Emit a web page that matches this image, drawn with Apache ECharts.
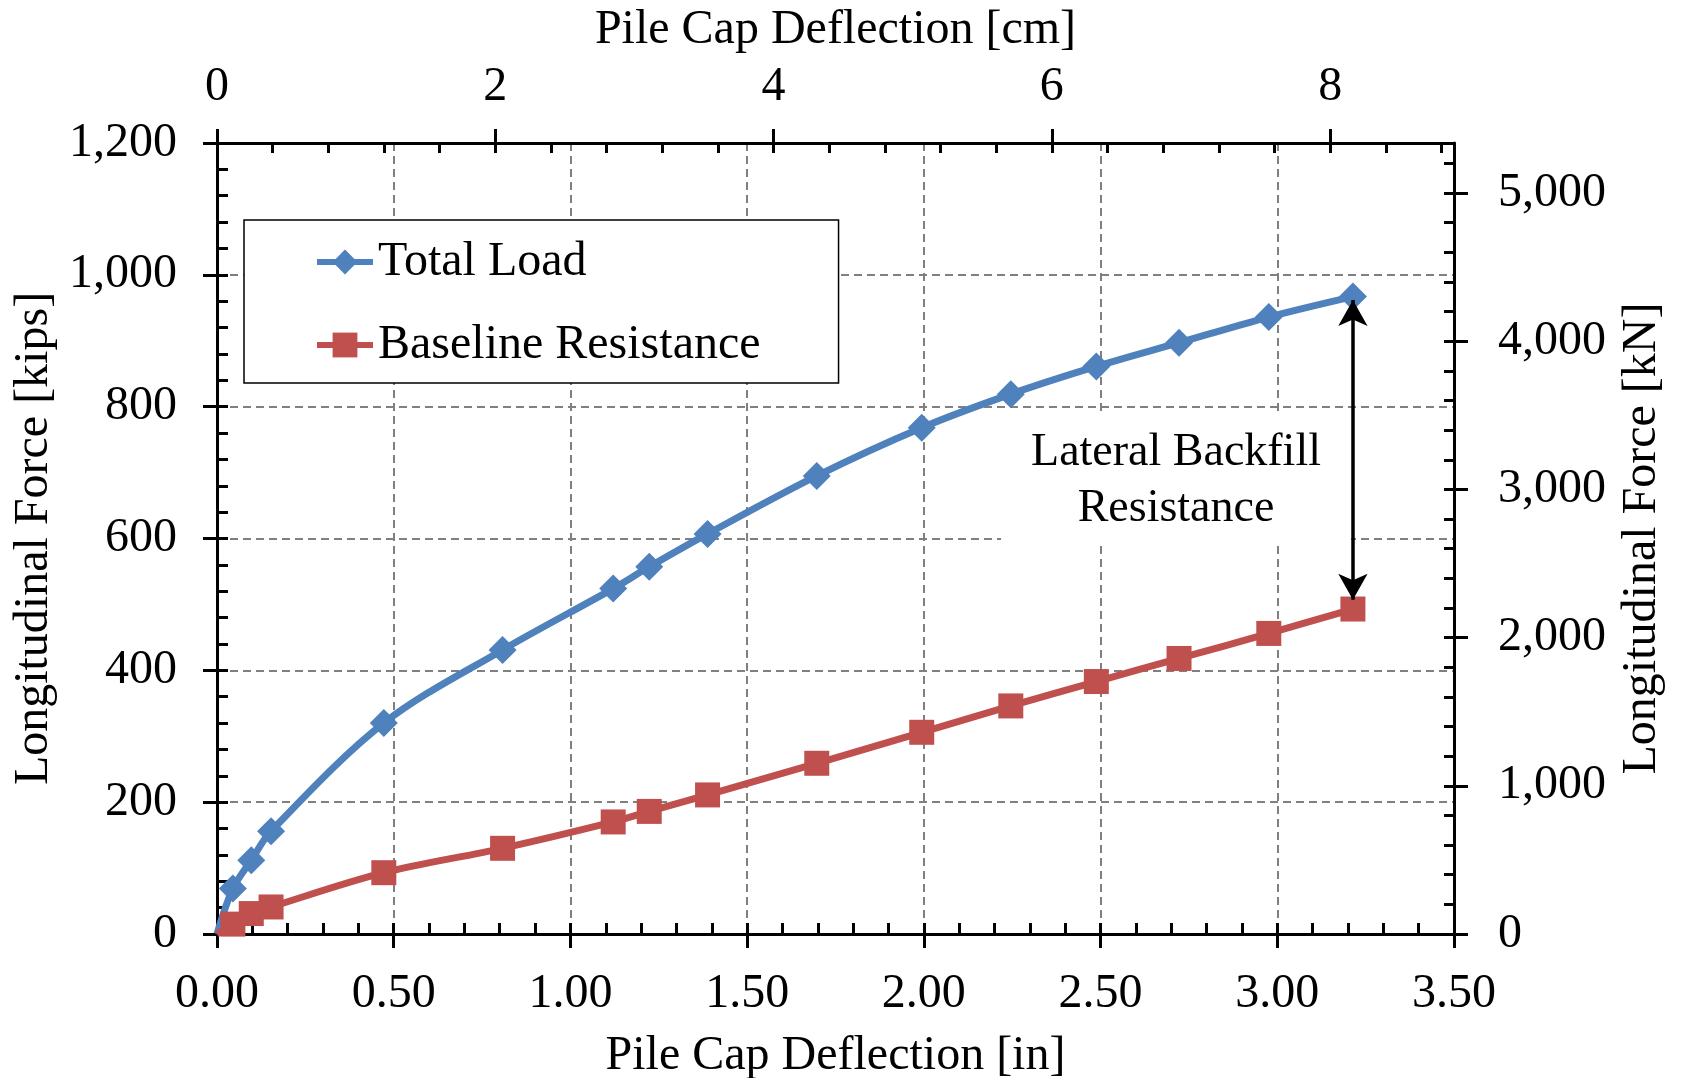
<!DOCTYPE html>
<html>
<head>
<meta charset="utf-8">
<script src="https://cdn.jsdelivr.net/npm/echarts@6/dist/echarts.min.js"></script>
<style>
  html, body { margin: 0; padding: 0; background: #fff; }
  #chart { width: 1681px; height: 1078px; }
</style>
</head>
<body>
<div id="chart"></div>
<script>
// ---------------- data ----------------
const deflectionIn = [0, 0.045, 0.097, 0.153, 0.472, 0.808, 1.121, 1.223, 1.388, 1.697, 1.994, 2.246, 2.488, 2.722, 2.976, 3.214];
const totalLoad    = [0, 69, 112, 156, 320, 431, 524, 557, 607, 695, 768, 819, 861, 897, 936, 967];
const baselineRes  = [0, 15, 31, 41, 93, 130, 170, 186, 211, 259, 306, 346, 383, 418, 456, 493];

const seriesNames = ['Total Load', 'Baseline Resistance'];
const annotationText = 'Lateral Backfill\nResistance';

// axes / ticks
const inMajor  = [0, 0.5, 1.0, 1.5, 2.0, 2.5, 3.0, 3.5];
const cmMajor  = [0, 2, 4, 6, 8];
const kipMajor = [0, 200, 400, 600, 800, 1000, 1200];
const kNMajor  = [0, 1000, 2000, 3000, 4000, 5000];
const IN_MAX = 3.5, KIP_MAX = 1200;
const CM_PER_IN = 2.54, KN_PER_KIP = 4.4482216;

function steps(start, stop, step) {
  const out = [];
  for (let v = start; v <= stop + 1e-9; v += step) out.push(Math.round(v * 1000) / 1000);
  return out;
}
const inMinor  = steps(0, IN_MAX, 0.1);
const cmMinor  = steps(0, IN_MAX * CM_PER_IN, 0.4);
const kipMinor = steps(0, KIP_MAX, 40);
const kNMinor  = steps(0, KIP_MAX * KN_PER_KIP, 200);

// ---------------- styling ----------------
const FONT = '"Liberation Serif", "Times New Roman", Times, serif';
const BLUE = '#4F81BD', RED = '#C0504D';
const AX = { color: '#000', width: 3 };
const txt = { color: '#000', fontFamily: FONT, fontSize: 48 };

function addCommas(v) { return String(Math.round(v)).replace(/\B(?=(\d{3})+(?!\d))/g, ','); }

function tickAxis(position, min, max, values, inside, length) {
  return {
    type: 'value', position, min, max, offset: 0,
    axisLine: { show: false, onZero: false },
    axisTick: { show: true, inside, length, customValues: values, lineStyle: AX },
    axisLabel: { show: false },
    splitLine: { show: false }
  };
}

const grid = { left: 217, top: 143, width: 1237, height: 791, containLabel: false, outerBoundsMode: 'none' };

const xAxis = [
  { // bottom (in)
    type: 'value', position: 'bottom', min: 0, max: IN_MAX, interval: 0.5,
    axisLine: { show: true, onZero: false, lineStyle: AX },
    axisTick: { show: true, inside: false, length: 14, customValues: inMajor, lineStyle: AX },
    axisLabel: Object.assign({ margin: 36, formatter: v => v.toFixed(2) }, txt),
    splitLine: { show: true, showMinLine: false, showMaxLine: false,
                 lineStyle: { color: '#808080', width: 2, type: [8, 5] } },
    name: 'Pile Cap Deflection [in]', nameLocation: 'middle', nameGap: 98,
    nameTextStyle: txt
  },
  tickAxis('bottom', 0, IN_MAX, inMinor, true, 11),
  { // top (cm)
    type: 'value', position: 'top', min: 0, max: IN_MAX * CM_PER_IN,
    axisLine: { show: true, onZero: false, lineStyle: AX },
    axisTick: { show: true, inside: false, length: 14, customValues: cmMajor, lineStyle: AX },
    axisLabel: Object.assign({ margin: 32, customValues: cmMajor, formatter: v => String(v) }, txt),
    splitLine: { show: false },
    name: 'Pile Cap Deflection [cm]', nameLocation: 'middle', nameGap: 89,
    nameTextStyle: txt
  },
  tickAxis('top', 0, IN_MAX * CM_PER_IN, cmMinor, true, 10)
];

const yAxis = [
  { // left (kips)
    type: 'value', position: 'left', min: 0, max: KIP_MAX, interval: 200,
    axisLine: { show: true, onZero: false, lineStyle: AX },
    axisTick: { show: true, inside: false, length: 14, customValues: kipMajor, lineStyle: AX },
    axisLabel: Object.assign({ margin: 40, formatter: v => addCommas(v) }, txt),
    splitLine: { show: true, showMinLine: false, showMaxLine: false,
                 lineStyle: { color: '#808080', width: 2, type: [8, 5] } },
    name: 'Longitudinal Force [kips]', nameLocation: 'middle', nameGap: 158, nameRotate: 90,
    nameTextStyle: txt
  },
  tickAxis('left', 0, KIP_MAX, kipMinor, true, 11),
  { // right (kN)
    type: 'value', position: 'right', min: 0, max: KIP_MAX * KN_PER_KIP,
    axisLine: { show: true, onZero: false, lineStyle: AX },
    axisTick: { show: true, inside: false, length: 14, customValues: kNMajor, lineStyle: AX },
    axisLabel: Object.assign({ margin: 44, customValues: kNMajor, formatter: v => addCommas(v) }, txt),
    splitLine: { show: false },
    name: 'Longitudinal Force [kN]', nameLocation: 'middle', nameGap: 164, nameRotate: 90,
    nameTextStyle: txt
  },
  tickAxis('right', 0, KIP_MAX * KN_PER_KIP, kNMinor, true, 10)
];

function build(ys) {
  return deflectionIn.map((x, i) => i === 0 ? { value: [x, ys[i]], symbol: 'none' } : [x, ys[i]]);
}

const last = deflectionIn.length - 1;
const arrowX = deflectionIn[last];

const option = {
  animation: false,
  backgroundColor: '#fff',
  grid,
  xAxis, yAxis,
  legend: {
    data: seriesNames,
    orient: 'vertical', left: 244, top: 220,
    padding: [17, 78, 13, 70], itemGap: 33,
    itemWidth: 56, itemHeight: 31,
    backgroundColor: '#fff', borderColor: '#000', borderWidth: 1.5, borderRadius: 0,
    lineStyle: { width: 6 },
    textStyle: { color: '#000', fontFamily: FONT, fontSize: 48, lineHeight: 50 },
    selectedMode: false, z: 5
  },
  graphic: [{
    type: 'text', x: 1176, y: 415, z: 1, silent: true,
    style: {
      text: annotationText, font: '46px ' + FONT, fill: '#000',
      textAlign: 'center', textVerticalAlign: 'top', lineHeight: 56,
      backgroundColor: '#fff', padding: [10, 30, 6, 30]
    }
  }],
  series: [
    {
      name: seriesNames[0], type: 'line', xAxisIndex: 0, yAxisIndex: 0,
      data: build(totalLoad), smooth: 0.33,
      symbol: 'diamond', symbolSize: 28,
      lineStyle: { color: BLUE, width: 7 }, itemStyle: { color: BLUE },
      z: 2,
      markLine: {
        silent: true, animation: false,
        symbol: ['arrow', 'arrow'], symbolSize: [22, 26],
        label: { show: false },
        lineStyle: { color: '#000', width: 3.5, type: 'solid' },
        emphasis: { disabled: true },
        data: [[
          { coord: [arrowX, totalLoad[last] - 5] },
          { coord: [arrowX, baselineRes[last] + 14] }
        ]]
      }
    },
    {
      name: seriesNames[1], type: 'line', xAxisIndex: 0, yAxisIndex: 0,
      data: build(baselineRes), smooth: 0.33,
      symbol: 'rect', symbolSize: 25,
      lineStyle: { color: RED, width: 7 }, itemStyle: { color: RED },
      z: 3
    }
  ]
};

const chart = echarts.init(document.getElementById('chart'), null, { renderer: 'canvas' });
chart.setOption(option);
</script>
</body>
</html>
